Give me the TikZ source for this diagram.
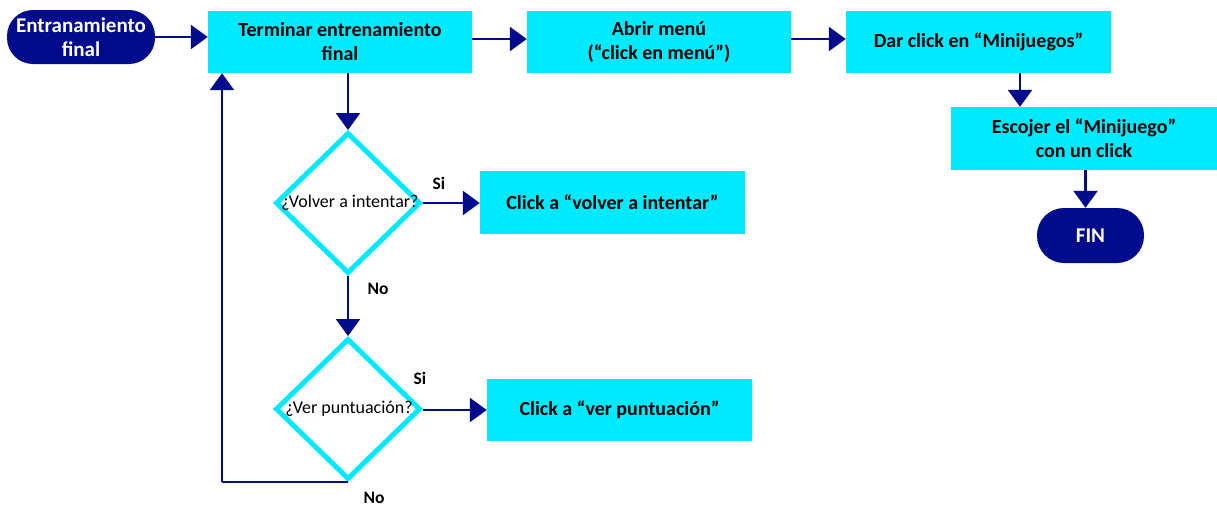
\documentclass[tikz,border=0pt]{standalone}
\usepackage{fontspec}
\setmainfont{Carlito}
\usetikzlibrary{arrows.meta,shapes.geometric}
\definecolor{navy}{RGB}{0,12,140}
\definecolor{boxcyan}{RGB}{0,234,255}
\begin{document}
\begin{tikzpicture}[x=1pt,y=-1pt,
  stepbox/.style={rectangle,fill=boxcyan,inner sep=0pt,minimum width=265pt,minimum height=62pt,
    align=center,font=\fontsize{20}{24}\selectfont\bfseries,text=black},
  term/.style={rectangle,rounded corners=26pt,fill=navy,inner sep=0pt,minimum height=54pt,
    align=center,font=\fontsize{21}{24}\selectfont\bfseries,text=white},
  decision/.style={diamond,draw=boxcyan,line width=5pt,fill=white,inner sep=0pt,
    minimum width=145pt,minimum height=141pt},
  qtext/.style={font=\fontsize{18}{21}\selectfont,text=black,inner sep=0pt},
  lbl/.style={font=\fontsize{17.5}{20}\selectfont\bfseries,text=black,inner sep=0pt},
  flow/.style={draw=navy,line width=2.5pt,-{Triangle[length=17pt,width=24pt]}},
  link/.style={draw=navy,line width=2.5pt}]
\useasboundingbox (0,0) rectangle (1217,506);

% process boxes
\node[term,minimum width=148pt] (start) at (81,37) {Entranamiento\\final};
\node[stepbox,minimum width=264pt] (A) at (340,42) {Terminar entrenamiento\\final};
\node[stepbox,minimum width=264pt] (B) at (659,42) {Abrir menú\\(“click en menú”)};
\node[stepbox] (C) at (978.5,42) {Dar click en “Minijuegos”};
\node[stepbox,minimum width=266pt,minimum height=63pt] (D) at (1084,138.5) {Escojer el “Minijuego”\\con un click};
\node[term,minimum width=107pt,minimum height=55pt,rounded corners=27pt] (fin) at (1090.5,235.5) {FIN};
\node[stepbox,minimum height=63pt] (E) at (612.5,202.5) {Click a “volver a intentar”};
\node[stepbox] (F) at (619.5,410) {Click a “ver puntuación”};

% decisions
\node[decision] (d1) at (348,203) {};
\node[qtext] (q1) at (350,203) {¿Volver a intentar?};
\node[decision] (d2) at (348,409) {};
\node[qtext] (q2) at (349,409) {¿Ver puntuación?};

% branch labels
\node[lbl] (si1) at (439,183) {Si};
\node[lbl] (no1) at (378,289) {No};
\node[lbl] (si2) at (420,378) {Si};
\node[lbl] (no2) at (374,498) {No};

\coordinate (loopx) at (222,482);

% connectors
\draw[flow] (start.east) -- (start.east -| A.west);
\draw[flow] ([yshift=3pt]A.east) -- ([yshift=3pt]B.west);
\draw[flow] ([yshift=3pt]B.east) -- ([yshift=3pt]C.west);
\draw[flow] ([xshift=41.5pt]C.south) -- ([xshift=41.5pt]C.south |- D.north);
\draw[flow] (fin.north -| D.south) ++(1.5,0) coordinate (dfx) (D.south -| dfx) -- (dfx |- fin.north);
\draw[flow] (A.south -| d1.north) -- (d1.north);
\draw[flow] (d1.east) -- (d1.east -| E.west);
\draw[flow] (d1.south) -- (d2.north);
\draw[flow] ([yshift=-1pt]d2.east) -- ([yshift=-1pt]d2.east -| F.west);
\draw[link] (d2.south) -- (loopx);
\draw[flow] (loopx) -- (loopx |- A.south);
\end{tikzpicture}
\end{document}
